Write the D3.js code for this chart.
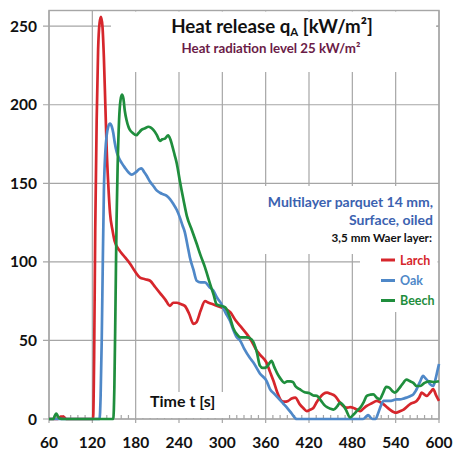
<!DOCTYPE html>
<html><head><meta charset="utf-8">
<script src="https://cdn.jsdelivr.net/npm/d3@7/dist/d3.min.js"></script>
<style>body{margin:0;background:#fff}svg{display:block}text{font-family:Lato,"Open Sans",sans-serif;font-weight:bold}</style>
</head><body><svg id="c" width="454" height="450"></svg>
<script>
const xTicks = [60,120,180,240,300,360,420,480,540,600];
const yTicks = [0,50,100,150,200,250];
const seriesNames = ["Larch","Oak","Beech"];
const seriesColors = ["#d6262c","#4f88c8","#1f8e3d"];

const larch = [[60,0],[66,0],[72,0],[76,1.5],[80,1.5],[84,0],[100,0],[121,0],[122.5,40],[124,120],[126,190],[128,235],[130,252],[132,256],[134,250],[136,230],[138,200],[140,170],[142,150],[144.5,131],[148,120],[151,113],[158,107],[165,103],[172,99],[179,94],[186,90],[193,89],[200,88],[207,84],[214,80],[221,76],[227.5,72],[232,74],[237,74],[243,73],[248,72],[254,67],[260,60.5],[264,61.5],[270,69],[276,75],[281,74],[287,73],[293,72],[299,71],[305,70],[311,68],[318,63],[327,58],[334,54],[340,50],[347,44],[352,41],[361,36],[366,30],[371,24],[376,17],[382,11.5],[386,11],[391,11.5],[396,13],[401,13.6],[407,9.5],[412,7],[417,5],[422,6],[426,7],[431,11],[435,13.6],[440,16],[445,16.8],[450,16],[456,14.7],[463,10.4],[468,8],[472,7.2],[477,7.5],[481,7.2],[486,6],[491,5],[495,6.5],[500,8.3],[507,10],[514,11.5],[519,10.5],[523,9.5],[528,7.5],[532,6],[537,4.5],[541,4],[546,5],[551,6],[556,8],[560,9.5],[565,10.5],[569,11.5],[573,14],[576,16.8],[580,15.5],[583,14.7],[588,17],[592,19],[596,15],[600,11.5]];

const oak = [[60,0],[130,0],[131.5,15],[133,50],[134.5,100],[136,145],[138,170],[140,181],[142,186],[144.5,188],[147,186],[149,182],[151,176],[153.7,170],[157,166],[160.6,163],[165,160],[170,157],[174.5,155.5],[180,157],[185,159],[188,159.5],[192,157],[195,155],[200,151],[205,148],[209,145.5],[213.7,144],[218,143],[223,142],[227.5,140],[232,137],[237,133],[241,128.5],[245,123],[248,119],[252,110],[255,103],[260,95],[264.5,88],[270,87],[276,87],[282,84],[287.5,81.7],[293,77],[299,73],[304,68],[310.6,62.5],[315,57],[320,52],[324.5,50],[330,45],[338,39],[343,36],[352,29],[361.5,24],[366,19],[372,16],[380,12],[384,10],[390,7],[396,3.5],[401,0.5],[403,0],[495,0],[499,1.5],[502,2.5],[505,1],[508,0],[512,0],[516,4],[520,9],[523,11.5],[528,11.5],[532,11.5],[537,12],[541,12.5],[546,12.5],[551,13],[555,13.6],[560,14.5],[564.5,15.7],[568,18],[571,21],[574,24],[578,27.4],[581,26],[585,24],[588,22],[592,21],[595,25],[598,31],[600,35]];

const beech = [[60,0],[66,0],[68,2],[70,3.5],[72,2],[74,0.5],[80,0],[149,0],[150.5,20],[152,70],[153.5,125],[155,160],[157,190],[159,203],[161,206.5],[163,204],[165,196],[167.5,190],[170,186],[172,184],[176,182],[181,180.6],[184,182],[188,184],[193,185],[197.5,186],[201,185.5],[204.5,184],[209,181],[213.7,177],[217,178],[220.6,178.5],[225,180.6],[228,178],[230,175],[234,168],[237,162.5],[241,152],[246,140],[251,129],[258,120],[264.5,111.5],[270,104],[276,96.5],[283,86],[288,79],[292,73],[298,72],[304,71],[310.6,64.6],[315,58],[320,54],[325,52],[333.7,52],[338,51.5],[343,49],[348,42],[352,34],[356,32.5],[361,33],[366,36],[368,37],[372,33],[376,29],[380,26],[386,23],[390,24],[394,24],[398,23.5],[401,21],[407,19],[414,17],[420,16.5],[426,15],[431,14.7],[436,12],[441,9],[445,7.5],[450,6.5],[454,6],[459,8],[463,10.4],[467,9],[471,6],[477,1],[482,3],[487,5.5],[491,7.2],[496,11],[500,14.7],[505,15.5],[509,15.7],[514,13.5],[518,12.5],[522,16],[527,20.5],[531,20],[535,18],[539,16.8],[544,19],[549,22],[555,25],[560,24],[564.5,23],[569,21],[574,21],[580,23],[587,24],[593,23.5],[600,24]];

const svg = d3.select("#c");
const x = d3.scaleLinear().domain([60,600]).range([49,439]);
const y = d3.scaleLinear().domain([0,260]).range([419,10.5]);
const grid = "#a6a6a6";

// gridlines
const g = svg.append("g");
xTicks.forEach(t => {
  g.append("line").attr("x1",x(t)).attr("x2",x(t)).attr("y1",y(260)).attr("y2",y(0)+4)
   .attr("stroke",grid).attr("stroke-width",1.2);
});
yTicks.forEach(v => {
  g.append("line").attr("x1",x(60)-6).attr("x2",x(600)).attr("y1",y(v)).attr("y2",y(v))
   .attr("stroke",grid).attr("stroke-width",1.2);
});
// minor ticks every 10 s
d3.range(70,600,10).filter(t=>t%60!==0).forEach(t=>{
  g.append("line").attr("x1",x(t)).attr("x2",x(t)).attr("y1",y(0)).attr("y2",y(0)-4)
   .attr("stroke",grid).attr("stroke-width",1.2);
});

// white text boxes masking gridlines
const boxes = [[111,11.5,436.5,72],[262,186,437.5,254],[360,254,437.5,312],[142,392,226,418]];
boxes.forEach(b=>svg.append("rect").attr("x",b[0]).attr("y",b[1]).attr("width",b[2]-b[0]).attr("height",b[3]-b[1]).attr("fill","#fff"));
svg.append("line").attr("x1",x(600)-3).attr("x2",x(600)).attr("y1",y(250)).attr("y2",y(250)).attr("stroke",grid).attr("stroke-width",1.2);

// frame
svg.append("rect").attr("x",x(60)).attr("y",y(260)).attr("width",x(600)-x(60)).attr("height",y(0)-y(260))
  .attr("fill","none").attr("stroke",grid).attr("stroke-width",1.4);

// axis labels
svg.append("g").selectAll("text").data(yTicks).join("text")
  .attr("x",37).attr("y",d=>y(d)+5.5).attr("text-anchor","end").attr("font-size",15.5).attr("fill","#111").text(d=>d);
svg.append("g").selectAll("text").data(xTicks).join("text")
  .attr("x",d=>x(d)).attr("y",447.5).attr("text-anchor","middle").attr("font-size",15.5).attr("fill","#111").text(d=>d);

// lines
const line = d3.line().x(d=>x(d[0])).y(d=>y(d[1])).curve(d3.curveMonotoneX);
[larch,oak,beech].forEach((s,i)=>{
  svg.append("path").datum(s).attr("d",line).attr("fill","none").attr("stroke",seriesColors[i])
    .attr("stroke-width",2.7).attr("stroke-linejoin","round");
});

// titles
const t1 = svg.append("text").attr("x",272).attr("y",33).attr("text-anchor","middle").attr("font-size",18.7).attr("fill","#111");
t1.append("tspan").text("Heat release q");
t1.append("tspan").attr("font-size",11.5).attr("dy",3).text("A");
t1.append("tspan").attr("dy",-3).text(" [kW/m²]");
svg.append("text").attr("x",271).attr("y",53).attr("text-anchor","middle").attr("font-size",13.3).attr("fill","#6b1c47").text("Heat radiation level 25 kW/m²");

svg.append("text").attr("x",433).attr("y",207).attr("text-anchor","end").attr("font-size",14).attr("fill","#3b62b0").text("Multilayer parquet 14 mm,");
svg.append("text").attr("x",433).attr("y",225).attr("text-anchor","end").attr("font-size",14).attr("fill","#3b62b0").text("Surface, oiled");
svg.append("text").attr("x",432).attr("y",241.5).attr("text-anchor","end").attr("font-size",11.7).attr("fill","#111").text("3,5 mm Waer layer:");

// legend
const ly = [260,280.5,300.5];
seriesNames.forEach((n,i)=>{
  svg.append("line").attr("x1",381).attr("x2",395).attr("y1",ly[i]).attr("y2",ly[i]).attr("stroke",seriesColors[i]).attr("stroke-width",3);
  svg.append("text").attr("x",400).attr("y",ly[i]+4.5).attr("font-size",12.5).attr("fill",seriesColors[i]).text(n);
});

svg.append("text").attr("x",150).attr("y",406.5).attr("font-size",16).attr("fill","#111").text("Time t [s]");
</script></body></html>
